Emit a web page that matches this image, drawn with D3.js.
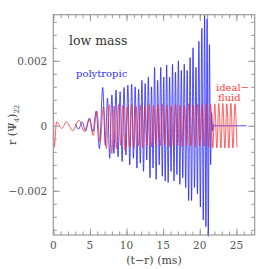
<!DOCTYPE html>
<html><head><meta charset="utf-8">
<script src="https://cdn.jsdelivr.net/npm/d3@7"></script>
<style>html,body{margin:0;padding:0;background:#fff;}</style>
</head><body>
<script>
// extrema of the polytropic waveform (time ms, value)
const polyT = [3.0,3.45,3.95,4.4,4.95,5.4,5.85,6.3,6.75,7.1,7.4,7.7,8.0,8.28,8.56,8.84,9.12,9.4,9.66,9.92,10.18,10.44,10.7,10.94,11.18,11.42,11.65,11.88,12.1,12.32,12.54,12.76,12.98,13.2,13.41,13.62,13.83,14.04,14.25,14.46,14.67,14.88,15.08,15.28,15.48,15.68,15.88,16.08,16.28,16.48,16.68,16.88,17.08,17.28,17.48,17.68,17.88,18.08,18.28,18.48,18.68,18.88,19.08,19.28,19.48,19.68,19.88,20.08,20.28,20.48,20.66,20.84,21.0,21.16,21.32,21.48,21.62,21.76,21.9,22.0,26.4];
const polyV = [0.00006,-0.0001,0.00012,-0.00016,0.00024,-0.00018,0.00045,-0.0007,0.00118,-0.0006,0.00085,-0.001,0.00095,-0.00085,0.0011,-0.00095,0.00105,-0.0011,0.00118,-0.0009,0.00125,-0.0012,0.00128,-0.001,0.0012,-0.0013,0.00112,-0.00115,0.0014,-0.0014,0.0013,-0.00105,0.0015,-0.0016,0.0012,-0.0013,0.0018,-0.00165,0.0014,-0.0012,0.0018,-0.00155,0.0015,-0.0017,0.00187,-0.00175,0.0015,-0.0014,0.0019,-0.0017,0.00165,-0.0015,0.002,-0.0018,0.0017,-0.0016,0.0019,-0.0019,0.0017,-0.0023,0.0021,-0.0023,0.0024,-0.0019,0.0018,-0.0021,0.0026,-0.0025,0.003,-0.0029,0.0034,-0.0031,0.0033,-0.0034,0.0025,-0.0012,0.0004,-0.00015,0.00004,0,0];
// extrema of the ideal-fluid waveform
const idealT = [0,0.13,0.45,1.15,1.8,2.65,3.5,4.25,4.9,5.45,5.95,6.4,6.85,7.25,7.65,8.0,8.3,8.6,8.9,9.2,9.5,9.8,10.1,10.4,10.7,11.0,11.3,11.6,11.9,12.2,12.5,12.8,13.1,13.4,13.7,14.0,14.3,14.6,14.9,15.2,15.5,15.8,16.1,16.4,16.7,17.0,17.3,17.6,17.9,18.2,18.5,18.8,19.1,19.4,19.7,20.0,20.3,20.6,20.9,21.2,21.5,21.78,22.05,22.33,22.6,22.88,23.15,23.43,23.7,23.98,24.25,24.53,24.8,25.08];
const idealV = [0.00072,-0.00065,0.00012,-0.00008,0.00012,-0.00015,0.00017,-0.00018,0.0002,-0.0003,0.00045,-0.0005,0.0006,-0.0007,0.00065,-0.00085,0.0006,-0.0007,0.00065,-0.0006,0.00062,-0.00075,0.00058,-0.00065,0.00066,-0.0007,0.0006,-0.00062,0.00064,-0.00068,0.0006,-0.0006,0.00066,-0.00065,0.00062,-0.0006,0.00065,-0.00062,0.00066,-0.00058,0.00063,-0.00065,0.0006,-0.00062,0.00066,-0.0006,0.00064,-0.00065,0.00062,-0.0006,0.00068,-0.00062,0.00064,-0.00065,0.00066,-0.0006,0.00065,-0.00062,0.00068,-0.00066,0.00066,-0.00068,0.00068,-0.00068,0.00069,-0.00068,0.00069,-0.00068,0.00068,-0.00068,0.00069,-0.00068,0.00068,-0.00066];
const xTicks = [0,5,10,15,20,25];
const xTickLabels = ["0","5","10","15","20","25"];
const yTicks = [-0.002,0,0.002];
const yTickLabels = ["\u22120.002","0","0.002"];

const W = 269, H = 269;
const svg = d3.select("body").append("svg").attr("width",W).attr("height",H);
const L = 53.3, R = 254.7, T = 14.7, B = 235;
const x = d3.scaleLinear().domain([0,27.5]).range([L,R]);
const y = d3.scaleLinear().domain([-0.00336,0.00342]).range([B,T]);
const font = "DejaVu Serif";
const axisCol = "#999";

// curves
const line = d3.line().x(d=>x(d[0])).y(d=>y(d[1])).curve(d3.curveMonotoneX);
const polyData = d3.zip(polyT, polyV);
const idealData = d3.zip(idealT, idealV);
svg.append("path").attr("d", line(polyData)).attr("fill","none")
  .attr("stroke","#1a1aff").attr("stroke-width",0.9).attr("stroke-opacity",0.85);
svg.append("path").attr("d", line(idealData)).attr("fill","none")
  .attr("stroke","#ff2020").attr("stroke-width",1).attr("stroke-opacity",0.7);

// frame
svg.append("rect").attr("x",L).attr("y",T).attr("width",R-L).attr("height",B-T)
  .attr("fill","none").attr("stroke",axisCol).attr("stroke-width",1.2);

// ticks via axes
const xMinor = d3.range(0,28,1);
const yMinor = d3.range(-0.0032,0.00321,0.0004);
function addAxis(axisGen, tx, ty){
  const g = svg.append("g").attr("transform",`translate(${tx},${ty})`).call(axisGen);
  g.select(".domain").remove();
  g.selectAll("line").attr("stroke",axisCol).attr("stroke-width",1);
  return g;
}
addAxis(d3.axisTop(x).tickValues(xMinor).tickSize(3.5).tickFormat(""), 0, B);
addAxis(d3.axisTop(x).tickValues(xTicks).tickSize(6.5).tickFormat(""), 0, B);
addAxis(d3.axisBottom(x).tickValues(xMinor).tickSize(3.5).tickFormat(""), 0, T);
addAxis(d3.axisBottom(x).tickValues(xTicks).tickSize(6.5).tickFormat(""), 0, T);
addAxis(d3.axisRight(y).tickValues(yMinor).tickSize(3.5).tickFormat(""), L, 0);
addAxis(d3.axisRight(y).tickValues(yTicks).tickSize(6.5).tickFormat(""), L, 0);
addAxis(d3.axisLeft(y).tickValues(yMinor).tickSize(3.5).tickFormat(""), R, 0);
addAxis(d3.axisLeft(y).tickValues(yTicks).tickSize(6.5).tickFormat(""), R, 0);

// tick labels
svg.selectAll(".xl").data(xTicks).enter().append("text")
  .attr("x",d=>x(d)).attr("y",B+13.5).attr("text-anchor","middle")
  .attr("font-family",font).attr("font-size",10.5).attr("fill","#555")
  .text((d,i)=>xTickLabels[i]);
svg.selectAll(".yl").data(yTicks).enter().append("text")
  .attr("x",L-6).attr("y",d=>y(d)+3.8).attr("text-anchor","end")
  .attr("font-family",font).attr("font-size",10.5).attr("fill","#555")
  .text((d,i)=>yTickLabels[i]);

// axis titles
svg.append("text").attr("x",(L+R)/2).attr("y",264).attr("text-anchor","middle")
  .attr("font-family",font).attr("font-size",11).attr("fill","#444")
  .text("(t\u2212r) (ms)");
const yl = svg.append("text").attr("transform",`translate(16,${(T+B)/2}) rotate(-90)`)
  .attr("text-anchor","middle").attr("font-family",font).attr("font-size",11).attr("fill","#444");
yl.append("tspan").text("r (\u03A8");
yl.append("tspan").attr("font-size",7).attr("dy",2.5).text("4");
yl.append("tspan").attr("dy",-2.5).text(")");
yl.append("tspan").attr("font-size",7).attr("dy",3).text("22");

// annotations
svg.append("text").attr("x",69).attr("y",45).attr("font-family",font).attr("font-size",12.5)
  .attr("fill","#333").text("low mass");
svg.append("text").attr("x",76).attr("y",76.5).attr("font-family",font).attr("font-size",10)
  .attr("fill","#3030ff").text("polytropic");
svg.append("text").attr("x",216).attr("y",90.5).attr("font-family",font).attr("font-size",10)
  .attr("fill","#ff4040").text("ideal\u2212");
svg.append("text").attr("x",218).attr("y",100.5).attr("font-family",font).attr("font-size",10)
  .attr("fill","#ff4040").text("fluid");
</script>
</body></html>
